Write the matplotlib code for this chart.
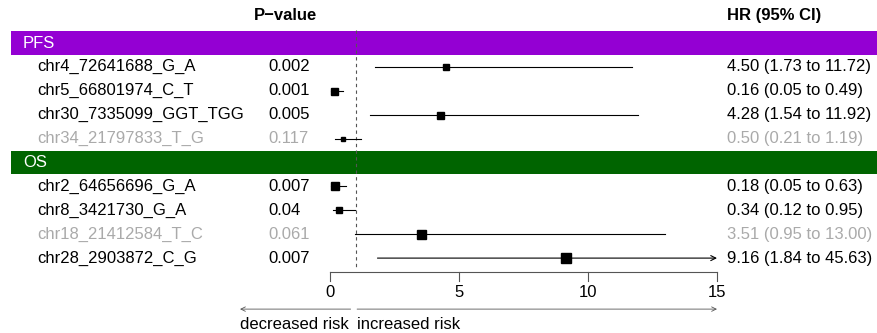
import matplotlib
matplotlib.use("Agg")
import matplotlib.pyplot as plt
import matplotlib.transforms as mtransforms

plt.rcParams['font.family'] = ['Liberation Sans', 'DejaVu Sans']

# ---- data ----
groups = ["PFS", "OS"]
group_colors = ["#9400D3", "#006400"]
group_rows = [
    ["chr4_72641688_G_A", "chr5_66801974_C_T", "chr30_7335099_GGT_TGG", "chr34_21797833_T_G"],
    ["chr2_64656696_G_A", "chr8_3421730_G_A", "chr18_21412584_T_C", "chr28_2903872_C_G"],
]
p_values = [["0.002", "0.001", "0.005", "0.117"],
            ["0.007", "0.04", "0.061", "0.007"]]
hr = [[4.50, 0.16, 4.28, 0.50],
      [0.18, 0.34, 3.51, 9.16]]
ci_low = [[1.73, 0.05, 1.54, 0.21],
          [0.05, 0.12, 0.95, 1.84]]
ci_high = [[11.72, 0.49, 11.92, 1.19],
           [0.63, 0.95, 13.00, 45.63]]
significant = [[True, True, True, False],
               [True, True, False, True]]
x_ticks = [0, 5, 10, 15]
x_max = 15
ref_line = 1

# ---- style ----
box_px = [[6, 7, 7, 5], [8, 6, 9, 10]]
GREY = "#AAAAAA"
AXIS = "#555555"
FS = 12
W, H = 878, 333
X0_PX, UNIT_PX = 330.0, 25.8      # pixel of HR=0, pixels per HR unit
Y0_PX, ROW_PX = 43.0, 23.9        # pixel of first group band, pixels per row


def fx(px):
    return px / W


fig = plt.figure(figsize=(W / 100, H / 100), dpi=100)
ax = fig.add_axes([0, 0, 1, 1])
ax.set_xlim(-X0_PX / UNIT_PX, (W - X0_PX) / UNIT_PX)
ax.set_ylim((H - Y0_PX) / ROW_PX, -Y0_PX / ROW_PX)
ax.axis("off")
tr = mtransforms.blended_transform_factory(ax.transAxes, ax.transData)

# headers
ax.text(fx(286), -1.17, "P\u2212value", transform=tr, ha="center", va="center",
        fontsize=FS, fontweight="bold")
ax.text(fx(727), -1.17, "HR (95% CI)", transform=tr, ha="left", va="center",
        fontsize=FS, fontweight="bold")

row = 0
last_row = 0
for g, gname in enumerate(groups):
    # group band
    ax.add_patch(plt.Rectangle((fx(11), row - 0.5), 1 - fx(11), 1.0,
                               transform=tr, facecolor=group_colors[g],
                               edgecolor="none", zorder=1))
    ax.text(fx(23), row, gname, transform=tr, ha="left", va="center",
            fontsize=FS, color="white", zorder=3)
    row += 1
    for k, name in enumerate(group_rows[g]):
        col = "black" if significant[g][k] else GREY
        ax.text(fx(37), row, name, transform=tr, ha="left", va="center",
                fontsize=FS, color=col)
        ax.text(fx(268), row, p_values[g][k], transform=tr, ha="left",
                va="center", fontsize=FS, color=col)
        ax.text(fx(727), row,
                f"{hr[g][k]:.2f} ({ci_low[g][k]:.2f} to {ci_high[g][k]:.2f})",
                transform=tr, ha="left", va="center", fontsize=FS, color=col)
        lo, hi = ci_low[g][k], ci_high[g][k]
        if hi > x_max:
            ax.annotate("", xy=(x_max, row), xytext=(lo, row),
                        arrowprops=dict(arrowstyle="->", lw=0.8, color="black",
                                        shrinkA=0, shrinkB=0,
                                        mutation_scale=9), zorder=4)
        else:
            ax.plot([lo, hi], [row, row], color="black", lw=0.8, zorder=4)
        ax.plot(hr[g][k], row, marker="s", color="black",
                markersize=box_px[g][k] * 0.72, zorder=5)
        last_row = row
        row += 1

# reference line at HR = 1
ax.plot([ref_line, ref_line], [-0.55, last_row + 0.5], color=AXIS, lw=0.8,
        ls=(0, (3, 3)), zorder=2)

# x axis
axis_y = last_row + 14 / ROW_PX
tick_len = 9 / ROW_PX
ax.plot([x_ticks[0], x_ticks[-1]], [axis_y, axis_y], color=AXIS, lw=0.8)
for t in x_ticks:
    ax.plot([t, t], [axis_y, axis_y + tick_len], color=AXIS, lw=0.8)
    ax.text(t, axis_y + 20 / ROW_PX, str(t), ha="center", va="center",
            fontsize=FS)

# risk direction arrows
arr_y = axis_y + 37 / ROW_PX
arrow_kw = dict(arrowstyle="->", lw=0.6, color=AXIS, shrinkA=0, shrinkB=0,
                mutation_scale=8)
left_end = (240 - X0_PX) / UNIT_PX
ax.annotate("", xy=(left_end, arr_y), xytext=(ref_line - 0.2, arr_y),
            arrowprops=arrow_kw)
ax.annotate("", xy=(x_max, arr_y), xytext=(ref_line + 0.05, arr_y),
            arrowprops=arrow_kw)
ax.text(left_end, arr_y + 15 / ROW_PX, "decreased risk", ha="left",
        va="center", fontsize=FS)
ax.text(ref_line + 0.05, arr_y + 15 / ROW_PX, "increased risk", ha="left",
        va="center", fontsize=FS)

fig.savefig("out.png", dpi=100)
